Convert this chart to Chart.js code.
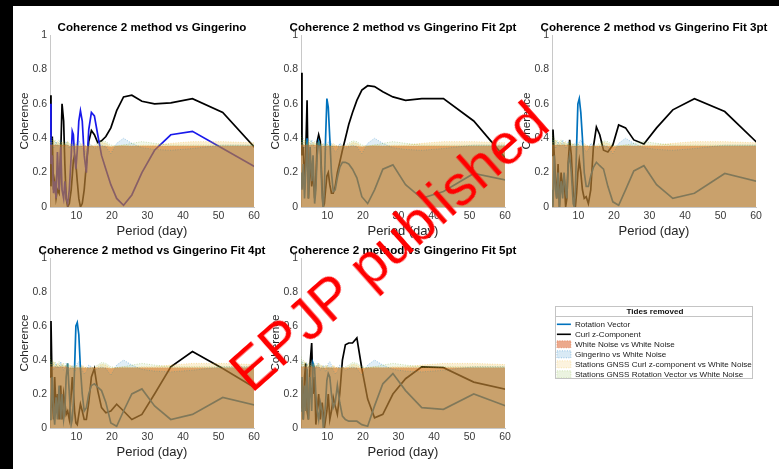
<!DOCTYPE html>
<html><head><meta charset="utf-8">
<script src="https://cdn.jsdelivr.net/npm/chart.js@4.4.1/dist/chart.umd.min.js"></script>
<style>
html,body{margin:0;padding:0;background:#000;width:779px;height:469px;overflow:hidden;position:relative;}
#sheet{position:absolute;left:13px;top:6px;width:766px;height:463px;background:#fff;}
canvas{position:absolute;}
#stamp{position:absolute;left:139px;top:218px;width:500px;height:57px;line-height:57px;text-align:center;
 font-family:'Liberation Sans',Arial,sans-serif;font-size:57px;color:#ff0000;transform:rotate(-41.5deg);white-space:nowrap;z-index:10;}
</style></head><body>
<div id="sheet"></div>
<canvas id="c1"></canvas><canvas id="c2"></canvas><canvas id="c3"></canvas>
<canvas id="c4"></canvas><canvas id="c5"></canvas><canvas id="cl"></canvas>
<div id="stamp">EPJP published</div>
<script>
// ---------- data ----------
const period = [2.56, 2.84, 3.2, 3.56, 3.88, 4.27, 4.65, 5.12, 5.57, 5.95, 6.4, 6.74, 7.11, 7.53, 8, 8.53, 8.83, 9.14, 9.48, 9.85, 10.24, 10.67, 11.13, 11.64, 12.19, 12.8, 13.47, 14.22, 15.06, 16, 17.07, 18.29, 19.69, 21.33, 23.27, 25.6, 28.44, 32, 36.57, 42.67, 51.2, 64];
const xTicks = [10, 20, 30, 40, 50, 60];
const xTickLabels = ['10', '20', '30', '40', '50', '60'];
const yTicks = [0, 0.2, 0.4, 0.6, 0.8, 1];
const yTickLabels = ['0', '0.2', '0.4', '0.6', '0.8', '1'];
const titles = ['Coherence 2 method vs Gingerino', 'Coherence 2 method vs Gingerino Fit 2pt', 'Coherence 2 method vs Gingerino Fit 3pt', 'Coherence 2 method vs Gingerino Fit 4pt', 'Coherence 2 method vs Gingerino Fit 5pt'];
const xTitle = 'Period (day)';
const yTitle = 'Coherence';
const legendTitle = 'Tides removed';
const legendNames = ['Rotation Vector', 'Curl z-Component', 'White Noise vs White Noise', 'Gingerino vs White Noise', 'Stations GNSS Curl z-component vs White Noise', 'Stations GNSS Rotation Vector vs White Noise'];

const curl1 = [.65,.12,.41,.1,.15,.05,.1,.08,.3,.6,.5,.25,.05,0,.02,.1,.18,.27,.3,.25,.15,.05,0,.02,.1,.25,.38,.445,.42,.375,.385,.41,.46,.56,.64,.65,.615,.60,.605,.63,.55,.26];
const rot1  = [.6,.25,.3,.08,.15,.05,.32,.1,.35,.1,.05,.15,.05,.02,.1,.3,.44,.42,.3,.22,.33,.5,.56,.5,.3,.2,.45,.55,.53,.42,.3,.22,.13,.05,.01,.07,.2,.33,.42,.44,.34,.19];
const curl2 = [.78,.3,.35,.1,.3,.62,.05,.28,.12,.2,.05,.15,.38,.42,.38,.1,0,.02,.1,.18,.2,.13,.08,.08,.12,.2,.26,.33,.4,.48,.55,.62,.68,.705,.70,.67,.64,.62,.63,.63,.50,.19];
const rot2  = [.2,.1,.25,.05,.2,.4,.05,.35,.15,.3,.02,.1,.3,.38,.35,.05,0,.1,.4,.63,.58,.4,.2,.09,.1,.17,.23,.26,.26,.25,.22,.17,.06,.02,.1,.22,.245,.13,.05,.09,.195,.14];
const curl3 = [.3,.45,.3,.15,.05,.25,0,.2,.1,.18,0,.05,.25,.39,.3,.08,.05,0,.08,.2,.27,.2,.1,.05,.06,.02,.1,.35,.465,.42,.33,.32,.36,.477,.46,.39,.366,.46,.565,.63,.555,.30];
const rot3  = [.1,0,.3,.1,.05,.2,0,.15,.05,.2,.1,.05,.25,.3,.2,.02,0,.1,.35,.6,.63,.55,.4,.2,.12,.12,.18,.23,.26,.24,.22,.12,.03,.01,.1,.21,.24,.13,.05,.08,.195,.13];
const curl4 = [.3,.63,.2,.05,.3,.1,.2,.05,.25,.05,.2,.15,.08,.1,.05,.2,.3,.22,.1,.03,.02,.08,.14,.1,.05,.05,.15,.3,.35,.22,.12,.09,.1,.14,.1,.05,.08,.2,.36,.45,.35,.19];
const rot4  = [.05,.1,.3,.1,.02,.18,.05,.25,.05,.2,.05,.1,.3,.38,.2,.02,.05,.15,.35,.6,.62,.55,.35,.2,.1,.12,.2,.25,.26,.24,.22,.15,.03,.01,.1,.2,.23,.13,.05,.08,.18,.115];
const curl5 = [.12,.28,.05,.3,.38,.1,.05,.38,.5,.2,.3,.02,.1,.2,.05,.15,.08,0,.05,.1,.2,.05,.1,.18,.13,.08,.2,.4,.49,.5,.5,.53,.35,.17,.06,.08,.2,.29,.36,.355,.27,.21];
const rot5  = [.1,.3,.05,.25,.1,.35,.05,.3,.1,.38,.35,.2,.1,.05,.15,.1,0,.05,.15,.28,.32,.3,.2,.12,.15,.25,.15,.07,.05,.04,.04,.04,.02,.01,.13,.26,.32,.22,.12,.11,.2,.1];

const noiseWhite     = [.36,.36,.36,.36,.36,.36,.36,.36,.36,.36,.36,.36,.36,.36,.355,.355,.355,.355,.355,.355,.355,.355,.355,.355,.355,.355,.355,.355,.355,.355,.355,.355,.35,.355,.355,.355,.355,.355,.355,.355,.355,.355];
const noiseGingerino = [.36,.39,.37,.34,.36,.38,.35,.36,.39,.37,.34,.35,.38,.37,.34,.36,.37,.35,.33,.35,.38,.39,.37,.34,.32,.33,.37,.36,.34,.35,.36,.35,.31,.37,.40,.37,.345,.335,.33,.34,.36,.36];
const noiseGnssCurl  = [.37,.38,.36,.39,.37,.36,.38,.37,.36,.38,.37,.36,.37,.38,.36,.37,.36,.35,.36,.37,.36,.35,.36,.37,.36,.35,.35,.36,.35,.36,.375,.37,.35,.355,.36,.355,.36,.36,.37,.38,.38,.37];
const noiseGnssRot   = [.42,.38,.40,.37,.39,.38,.36,.39,.37,.36,.38,.37,.36,.38,.37,.36,.35,.36,.37,.36,.35,.36,.35,.36,.35,.36,.35,.35,.36,.37,.385,.38,.36,.355,.36,.37,.38,.37,.36,.36,.36,.36];

// ---------- styling ----------
const FONT = "'Liberation Sans', Arial, Helvetica, sans-serif";
Chart.defaults.font.family = FONT;
const C_ROT = 'rgb(0,114,189)', C_ROT1 = 'rgb(25,25,235)', C_CURL = '#000000';
const RGB_WHITE = '217,83,25', RGB_GING = '0,114,189', RGB_GCURL = '237,177,32', RGB_GROT = '119,172,48';
const A_WHITE = 0.55, A_GING = 0.12, A_GCURL = 0.2, A_GROT = 0.1;

function pts(arr){ return period.map((p,i)=>({x:p, y:arr[i]})); }
function fillDs(label, arr, rgb, a, order){
  return {label, data: pts(arr), fill:'origin', backgroundColor:`rgba(${rgb},${a})`,
    borderColor:`rgba(${rgb},0.45)`, borderWidth:0.8, borderDash:[1,1.5], pointRadius:0, tension:0, order};
}
function lineDs(label, arr, color, order){
  return {label, data: pts(arr), fill:false, borderColor:color, borderWidth:1.7, pointRadius:0, tension:0, order};
}

const YW = 37, RW = 37, TH = 17, XH = 32;
function panel(id, area, title, rot, curl, rotColor){
  const cv = document.getElementById(id);
  const left = area.l - YW, top = area.t - TH;
  const w = area.r - area.l + YW + RW, h = area.b - area.t + TH + XH;
  cv.style.left = left + 'px'; cv.style.top = top + 'px';
  cv.width = w; cv.height = h; cv.style.width = w + 'px'; cv.style.height = h + 'px';
  new Chart(cv, {
    type: 'line',
    data: { datasets: [
      fillDs(legendNames[5], noiseGnssRot, RGB_GROT, A_GROT, 1),
      fillDs(legendNames[4], noiseGnssCurl, RGB_GCURL, A_GCURL, 2),
      fillDs(legendNames[3], noiseGingerino, RGB_GING, A_GING, 3),
      fillDs(legendNames[2], noiseWhite, RGB_WHITE, A_WHITE, 4),
      lineDs(legendNames[0], rot, rotColor, 10),
      lineDs(legendNames[1], curl, C_CURL, 11)
    ]},
    options: {
      responsive:false, maintainAspectRatio:false, animation:false, devicePixelRatio:1,
      layout:{padding:0},
      plugins:{
        legend:{display:false}, tooltip:{enabled:false},
        title:{display:true, text:title, color:'#000', font:{family:FONT, size:11.6, weight:'bold'}, padding:{top:2.5, bottom:0.58}}
      },
      scales:{
        x:{type:'linear', min:2.56, max:60,
          afterBuildTicks: s => { s.ticks = xTicks.map(v => ({value:v})); },
          ticks:{callback:(v,i) => xTickLabels[i], font:{size:10.5}, color:'#3a3a3a', padding:3, maxRotation:0, autoSkip:false},
          grid:{display:false, drawTicks:false}, border:{color:'#c8c8c8'},
          title:{display:true, text:xTitle, color:'#262626', font:{size:13}, padding:{top:0, bottom:0}},
          afterFit: s => { s.height = XH; s.paddingLeft = 0; s.paddingRight = 0; }
        },
        y:{type:'linear', min:0, max:1,
          afterBuildTicks: s => { s.ticks = yTicks.map(v => ({value:v})); },
          ticks:{callback:(v,i) => yTickLabels[i], font:{size:10.5}, color:'#3a3a3a', padding:3, autoSkip:false},
          grid:{display:false, drawTicks:false}, border:{color:'#c8c8c8'},
          title:{display:true, text:yTitle, color:'#262626', font:{size:11.7}, padding:{top:5, bottom:0}},
          afterFit: s => { s.width = YW; s.paddingTop = 0; s.paddingBottom = 0; }
        },
        yR:{position:'right', display:true, grid:{display:false, drawTicks:false}, border:{display:false}, ticks:{display:false},
          afterFit: s => { s.width = RW; s.paddingTop = 0; s.paddingBottom = 0; }
        }
      }
    }
  });
}

panel('c1', {l:50, r:254, t:35, b:207}, titles[0], rot1, curl1, C_ROT1);
panel('c2', {l:301, r:505, t:35, b:207}, titles[1], rot2, curl2, C_ROT);
panel('c3', {l:552, r:756, t:35, b:207}, titles[2], rot3, curl3, C_ROT);
panel('c4', {l:50, r:254, t:258, b:428}, titles[3], rot4, curl4, C_ROT);
panel('c5', {l:301, r:505, t:258, b:428}, titles[4], rot5, curl5, C_ROT);

// ---------- legend ----------
const lc = document.getElementById('cl');
lc.style.left = '555px'; lc.style.top = '306px';
lc.width = 400; lc.height = 76; lc.style.width = '400px'; lc.style.height = '76px';
const legendStyles = [
  {pointStyle:'line', strokeStyle:C_ROT, fillStyle:C_ROT, lineWidth:1.6, lineDash:[]},
  {pointStyle:'line', strokeStyle:C_CURL, fillStyle:C_CURL, lineWidth:1.6, lineDash:[]},
  {pointStyle:'rect', fillStyle:`rgba(${RGB_WHITE},0.5)`, strokeStyle:`rgba(${RGB_WHITE},0.6)`, lineWidth:0.8, lineDash:[1,1.5]},
  {pointStyle:'rect', fillStyle:`rgba(${RGB_GING},0.15)`, strokeStyle:`rgba(${RGB_GING},0.5)`, lineWidth:0.8, lineDash:[1,1.5]},
  {pointStyle:'rect', fillStyle:`rgba(${RGB_GCURL},0.15)`, strokeStyle:`rgba(${RGB_GCURL},0.4)`, lineWidth:0.8, lineDash:[1,1.5]},
  {pointStyle:'rect', fillStyle:`rgba(${RGB_GROT},0.15)`, strokeStyle:`rgba(${RGB_GROT},0.4)`, lineWidth:0.8, lineDash:[1,1.5]}
];
const framePlugin = {
  id:'frame',
  afterDraw(chart){
    const ctx = chart.ctx;
    ctx.save();
    ctx.strokeStyle = '#c4c4c4'; ctx.lineWidth = 1; ctx.setLineDash([]);
    ctx.strokeRect(0.5, 0.5, 197, 72);
    ctx.beginPath(); ctx.moveTo(0.5, 10.5); ctx.lineTo(197.5, 10.5); ctx.stroke();
    ctx.restore();
  }
};
new Chart(lc, {
  type:'line',
  data:{datasets:[]},
  options:{
    responsive:false, maintainAspectRatio:false, animation:false, devicePixelRatio:1,
    layout:{padding:0},
    scales:{x:{display:false}, y:{display:false}},
    plugins:{
      tooltip:{enabled:false},
      legend:{display:true, position:'left', align:'start',
        title:{display:true, text:legendTitle, color:'#111', font:{family:FONT, size:8.1, weight:'bold'}, padding:{top:1.65, bottom:0.98}},
        labels:{usePointStyle:true, pointStyleWidth:14, boxHeight:7, padding:1.9, color:'#1a1a1a', font:{family:FONT, size:8.1},
          generateLabels: () => legendNames.map((t,i) => Object.assign({text:t, hidden:false, fontColor:'#1a1a1a', datasetIndex:i}, legendStyles[i]))
        }
      }
    }
  },
  plugins:[framePlugin]
});
</script>
</body></html>
